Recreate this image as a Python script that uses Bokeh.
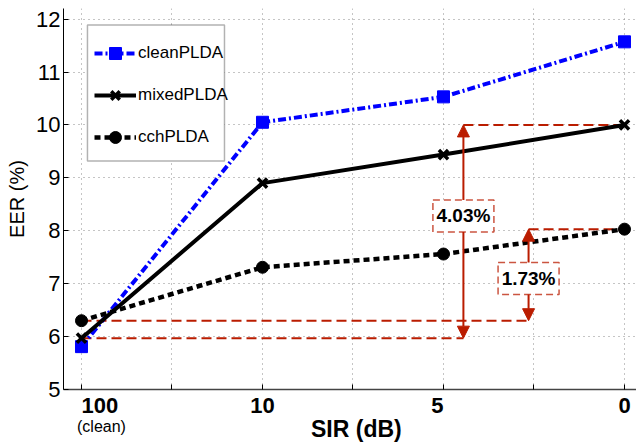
from bokeh.plotting import figure
from bokeh.models import (FixedTicker, Legend, LegendItem, Arrow, NormalHead,
                          BoxAnnotation, Range1d, LinearAxis)
from bokeh.core.properties import value
from bokeh.embed import file_html
from bokeh.resources import INLINE

# ---------------- data ----------------
categories = ["100", "10", "5", "0"]          # SIR (dB)
clean_plda = [5.81, 10.05, 10.53, 11.57]
mixed_plda = [5.97, 8.90, 9.44, 10.00]
cch_plda = [6.30, 7.31, 7.56, 8.03]
gap_labels = ["4.03%", "1.73%"]
y_ticks = [5, 6, 7, 8, 9, 10, 11, 12]

FONT = "Liberation Sans"
RED = "#BA1C00"
BLUE = "#0000FF"
NB = "\u00a0"

x = list(range(len(categories)))

p = figure(width=636, height=444, output_backend="svg", toolbar_location=None,
           x_range=Range1d(-0.0994, 3.0663), y_range=Range1d(5, 12.2),
           min_border_left=63, min_border_right=0, min_border_top=8,
           min_border_bottom=55)
p.outline_line_color = None
p.background_fill_color = "white"
p.border_fill_color = "white"

# ---------------- axes ----------------
p.xaxis.ticker = FixedTicker(ticks=x, minor_ticks=[i + 0.5 for i in x[:-1]])
xlabels = list(categories)
xlabels[0] = NB * 6 + xlabels[0]
xlabels[2] = xlabels[2] + NB * 2
p.xaxis.major_label_overrides = {i: c for i, c in zip(x, xlabels)}
p.yaxis.ticker = FixedTicker(ticks=y_ticks)

for ax in (p.xaxis, p.yaxis):
    ax.major_label_text_font = FONT
    ax.major_label_text_font_size = "22px"
    ax.major_label_text_color = "black"
    ax.major_tick_in = 5
    ax.major_tick_out = 0
    ax.minor_tick_in = 5
    ax.minor_tick_out = 0
    ax.major_tick_line_color = "black"
    ax.minor_tick_line_color = "black"

p.xaxis.major_label_text_font_style = "bold"
p.xaxis.major_label_standoff = 3
p.xaxis.axis_line_color = "#444444"
p.xaxis.axis_line_width = 1.5

p.yaxis.major_label_standoff = 3
p.yaxis.axis_line_color = "black"
p.yaxis.axis_line_width = 1
p.yaxis.axis_label = "EER (%)"
p.yaxis.axis_label_text_font = FONT
p.yaxis.axis_label_text_font_size = "20px"
p.yaxis.axis_label_text_font_style = "normal"
p.yaxis.axis_label_text_color = "black"
p.yaxis.axis_label_standoff = 5

# second (label-only) x axis: "(clean)" under 100 and the axis title
sub_axis = LinearAxis(ticker=FixedTicker(ticks=[x[0]], minor_ticks=[]),
                      major_label_overrides={x[0]: NB * 9 + "(clean)"},
                      major_label_text_font=FONT,
                      major_label_text_font_size="16px",
                      major_label_text_color="black",
                      major_label_standoff=-9,
                      axis_line_color=None, major_tick_line_color=None,
                      minor_tick_line_color=None,
                      axis_label=NB * 2 + "SIR (dB)",
                      axis_label_text_font=FONT,
                      axis_label_text_font_size="23px",
                      axis_label_text_font_style="bold",
                      axis_label_text_color="black",
                      axis_label_standoff=-22)
p.add_layout(sub_axis, "below")

# ---------------- grid ----------------
for g in (p.xgrid, p.ygrid):
    g.grid_line_color = "#8a8a8a"
    g.grid_line_dash = "1 4"
    g.grid_line_width = 1
p.xgrid.minor_grid_line_color = "#8a8a8a"
p.xgrid.minor_grid_line_dash = "1 4"

# ---------------- red reference lines ----------------
arrow_x = [2.11, 2.47]
label_y = [8.28, 7.10]
lows = [mixed_plda[0], cch_plda[0]]
highs = [mixed_plda[-1], cch_plda[-1]]
p.segment(x0=[x[0], x[0]] + arrow_x, y0=lows + highs,
          x1=arrow_x + [x[-1], x[-1]], y1=lows + highs,
          line_color=RED, line_width=2, line_dash="10 5")

# ---------------- series ----------------
r_clean_l = p.line(x, clean_plda, line_color=BLUE, line_width=4, line_dash="8 3 2 3")
r_clean_m = p.scatter(x, clean_plda, marker="square", size=12,
                      fill_color=BLUE, line_color=BLUE)
r_mixed_l = p.line(x, mixed_plda, line_color="black", line_width=4)
r_mixed_m = p.scatter(x, mixed_plda, marker="x", size=13,
                      line_color="black", line_width=3.5)
r_cch_l = p.line(x, cch_plda, line_color="black", line_width=4.5, line_dash="6 4")
r_cch_m = p.scatter(x, cch_plda, marker="circle", size=12,
                    fill_color="black", line_color="black")

# ---------------- arrows + gap labels ----------------
for ax_, lo, hi in zip(arrow_x, lows, highs):
    p.add_layout(Arrow(x_start=ax_, y_start=lo, x_end=ax_, y_end=hi,
                       start=NormalHead(size=12, fill_color=RED, line_color=RED),
                       end=NormalHead(size=12, fill_color=RED, line_color=RED),
                       line_color=RED, line_width=2))

p.rect(arrow_x, label_y, width=61, height=32, width_units="screen",
       height_units="screen", fill_color="white", line_color=RED,
       line_alpha=0.75, line_width=1.5, line_dash="7 4", level="overlay")
p.text(arrow_x, label_y, text=gap_labels, text_font=value(FONT),
       text_font_size="19px", text_font_style="bold", text_color="black",
       text_align="center", text_baseline="middle", level="overlay")

# ---------------- legend ----------------
p.add_layout(BoxAnnotation(left=0.033, right=0.79, top=11.89, bottom=9.32,
                           fill_color="white", fill_alpha=1.0,
                           line_color="black", line_width=1.5))
legend = Legend(items=[
    LegendItem(label="cleanPLDA", renderers=[r_clean_l, r_clean_m]),
    LegendItem(label="mixedPLDA", renderers=[r_mixed_l, r_mixed_m]),
    LegendItem(label="cchPLDA", renderers=[r_cch_l, r_cch_m]),
], location=(31, 237), glyph_width=42, glyph_height=30, label_height=30,
    label_standoff=2, padding=12, spacing=12, margin=0,
    label_text_font=FONT, label_text_font_size="17px",
    label_text_color="black",
    border_line_color=None, background_fill_alpha=0)
p.add_layout(legend, "center")

open("out.html", "w").write(file_html(p, INLINE))
